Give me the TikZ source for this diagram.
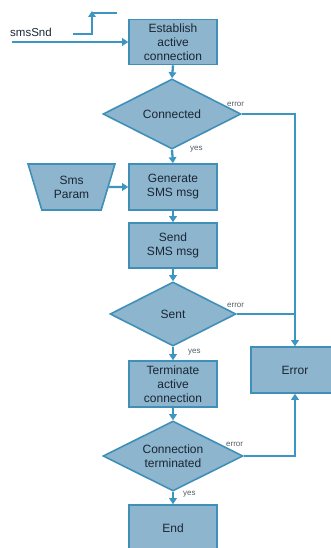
\documentclass[tikz,border=0pt]{standalone}
\usepackage{fontspec}
\setmainfont{Liberation Sans}
\usetikzlibrary{shapes.geometric,arrows.meta}
\definecolor{boxfill}{HTML}{8DB5CD}
\definecolor{boxline}{HTML}{3F8FB8}
\definecolor{wire}{HTML}{3D95C2}
\definecolor{txt}{HTML}{1A2634}
\tikzset{
  base/.style={draw=boxline, fill=boxfill, line width=1.6pt, text=txt,
    font=\fontsize{12}{14}\selectfont, align=center, inner sep=0pt},
  procbox/.style={base, rectangle, minimum width=88pt, minimum height=45pt},
  decide/.style={base, diamond, aspect=2},
  datain/.style={base, trapezium, trapezium angle=70, trapezium stretches=true,
    shape border rotate=180, minimum width=87pt, minimum height=46pt},
  wireline/.style={draw=wire, line width=2.3pt},
  flow/.style={wireline, -{Triangle[length=6pt,width=7.5pt]}},
  lbl/.style={text=txt!75, font=\fontsize{8}{9}\selectfont, inner sep=0pt}
}
\begin{document}
\begin{tikzpicture}[x=1pt,y=-1pt]
\useasboundingbox (0,0) rectangle (331,548);
\node[procbox] (est) at (173,42) {Establish\\active\\connection};
\node[decide, minimum width=138pt, minimum height=70pt] (conn) at (172,114) {Connected};
\node[procbox, minimum height=46pt] (gen) at (173,187) {Generate\\SMS msg};
\node[datain] (param) at (71.5,187) {Sms\\Param};
\node[procbox] (send) at (173,245.5) {Send\\SMS msg};
\node[decide, minimum width=126pt, minimum height=64pt] (sent) at (173,314) {Sent};
\node[procbox, minimum height=46pt] (term) at (173,384) {Terminate\\active\\connection};
\node[decide, minimum width=140pt, minimum height=70pt] (ct) at (173,456) {Connection\\terminated};
\node[procbox, minimum height=46pt] (end) at (173,528) {End};
\node[procbox, minimum height=46pt] (err) at (295,370) {Error};

\coordinate (src) at (12,42);
\node[text=txt, font=\fontsize{11.5}{13}\selectfont, anchor=west, inner sep=0pt] (sig) at (10,32) {smsSnd};
\draw[flow] (src) -- (est.west);
\coordinate (e1) at (73,34);
\coordinate (e2) at (92,34);
\coordinate (e3) at (92,13);
\coordinate (e4) at (117,13);
\draw[wireline] (e1) -- (e2) -- (e3) -- (e4);
\draw[flow] (e2) -- ([yshift=2pt]e3);

\draw[flow] (est.south) -- (conn.north);
\draw[flow] (conn.south) -- (gen.north);
\draw[flow] (param.east) -- (gen.west);
\draw[flow] (gen.south) -- (send.north);
\draw[flow] (send.south) -- (sent.north);
\draw[flow] (sent.south) -- (term.north);
\draw[flow] (term.south) -- (ct.north);
\draw[flow] (ct.south) -- (end.north);

\draw[flow] (conn.east) -| (err.north);
\draw[wireline] (sent.east) -- (sent.east -| err.north);
\draw[flow] (ct.east) -| (err.south);

\node[lbl, anchor=west] (y1) at (190,149) {yes};
\node[lbl, anchor=west] (y2) at (188,352) {yes};
\node[lbl, anchor=west] (y3) at (183,494) {yes};
\node[lbl, anchor=west] (r1) at (227,104) {error};
\node[lbl, anchor=west] (r2) at (227,305) {error};
\node[lbl, anchor=west] (r3) at (226,444) {error};
\end{tikzpicture}
\end{document}
